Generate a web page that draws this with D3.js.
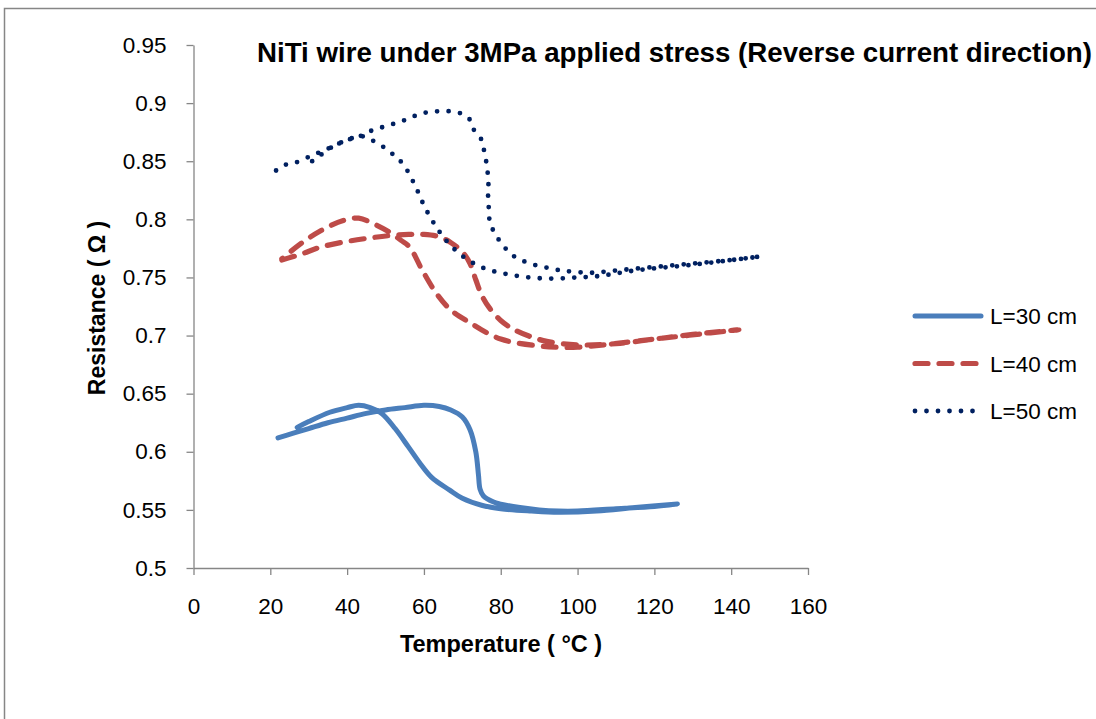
<!DOCTYPE html>
<html>
<head>
<meta charset="utf-8">
<script src="https://cdn.jsdelivr.net/npm/d3@7"></script>
<style>
body { margin: 0; background: #fff; }
text { font-family: "Liberation Sans", Arial, sans-serif; fill: #000; }
</style>
</head>
<body>
<svg width="1096" height="719"></svg>
<script>
// tick labels
var xTicks = [0, 20, 40, 60, 80, 100, 120, 140, 160];
var yTicks = [0.5, 0.55, 0.6, 0.65, 0.7, 0.75, 0.8, 0.85, 0.9, 0.95];
var seriesNames = ["L=30 cm", "L=40 cm", "L=50 cm"];

// L=30 cm : heating then cooling, in path order
var temp30 = [22, 26, 30, 35, 40, 45, 50, 55, 60, 64, 67, 70, 72, 73.5, 74.2, 74.6, 75.5, 78, 80, 85, 90, 95, 100, 110, 120, 126,
              115, 105, 95, 88, 80, 75, 70, 66.7, 62, 59, 56, 52.5, 49, 46, 43, 40, 35.5, 30, 27];
var res30 = [0.612, 0.616, 0.620, 0.625, 0.629, 0.633, 0.636, 0.638, 0.640, 0.639, 0.636, 0.630, 0.619, 0.600, 0.580, 0.568, 0.562, 0.557, 0.555, 0.552, 0.550, 0.549, 0.549, 0.551, 0.553, 0.555,
             0.552, 0.549, 0.548, 0.549, 0.551, 0.554, 0.560, 0.567, 0.578, 0.590, 0.604, 0.620, 0.633, 0.638, 0.640, 0.638, 0.634, 0.626, 0.621];

// L=40 cm
var temp40 = [23, 28, 33, 40, 46, 51, 56, 60, 64, 67, 70, 72, 73.5, 75, 77, 80, 83, 87, 92, 100, 110, 120, 130, 142,
              120, 100, 95, 90, 80, 72, 67, 63.3, 59.6, 56.3, 54, 51, 47, 43, 39, 33, 27.5, 23];
var res40 = [0.765, 0.770, 0.776, 0.781, 0.784, 0.786, 0.787, 0.787, 0.785, 0.780, 0.772, 0.762, 0.748, 0.735, 0.724, 0.713, 0.706, 0.700, 0.695, 0.692, 0.693, 0.697, 0.701, 0.705,
             0.697, 0.690, 0.690, 0.691, 0.697, 0.711, 0.722, 0.736, 0.756, 0.776, 0.782, 0.789, 0.796, 0.801, 0.799, 0.790, 0.778, 0.766];

// L=50 cm
var temp50 = [21.5, 24, 26.7, 30.2, 33, 35.8, 39.8, 43, 46.1, 48.9, 51.9, 54.7, 57.6, 60.6, 63.6, 66.7, 69.7, 71.9, 73, 74.9, 75.6, 76.2, 76.6, 76.8, 76.7, 76.9, 77.1, 78.1, 79.8, 81.8, 84, 86.8, 89.7, 92.7, 95.7, 98.8, 103.5, 110, 120, 130, 140, 147.6,
              130, 115, 105, 99.7, 93.7, 87.5, 81.4, 75.6, 70.2, 66, 63.3, 60.3, 57.7, 54.7, 52.6, 50.4, 47.7, 45, 43.2, 40, 37.6, 35, 32.6, 30.5, 28.9];
var res50 = [0.842, 0.847, 0.849, 0.854, 0.858, 0.862, 0.868, 0.871, 0.876, 0.879, 0.882, 0.885, 0.889, 0.892, 0.893, 0.893, 0.891, 0.886, 0.877, 0.869, 0.860, 0.850, 0.840, 0.829, 0.819, 0.809, 0.799, 0.790, 0.781, 0.773, 0.767, 0.763, 0.760, 0.758, 0.756, 0.755, 0.754, 0.756, 0.759, 0.762, 0.765, 0.768,
             0.761, 0.756, 0.751, 0.750, 0.749, 0.750, 0.753, 0.758, 0.768, 0.781, 0.793, 0.810, 0.829, 0.847, 0.854, 0.860, 0.866, 0.870, 0.872, 0.868, 0.865, 0.860, 0.854, 0.849, 0.844];

var svg = d3.select("svg");

// outer chart border
svg.append("rect")
  .attr("x", 4.5).attr("y", 8.5)
  .attr("width", 1100).attr("height", 720)
  .attr("fill", "none")
  .attr("stroke", "#868686")
  .attr("stroke-width", 1.5);

var x = d3.scaleLinear().domain([0, 160]).range([193.5, 808]);
var y = d3.scaleLinear().domain([0.5, 0.95]).range([568, 45]);

var xAxis = svg.append("g")
  .attr("transform", "translate(0,568)")
  .call(d3.axisBottom(x).tickValues(xTicks).tickSize(7).tickSizeOuter(0).tickPadding(23));

var yAxis = svg.append("g")
  .attr("transform", "translate(193.5,0)")
  .call(d3.axisLeft(y).tickValues(yTicks).tickSize(7).tickSizeOuter(0).tickPadding(20)
    .tickFormat(function(d) { return d3.format("")(+d.toFixed(2)); }));

[xAxis, yAxis].forEach(function(a) {
  a.selectAll("path, line").attr("stroke", "#868686").attr("stroke-width", 1.3);
  a.selectAll("text").attr("font-size", "22.5px").attr("font-family", "Liberation Sans, Arial, sans-serif").attr("fill", "#000");
});

var line = d3.line()
  .x(function(d) { return x(d[0]); })
  .y(function(d) { return y(d[1]); })
  .curve(d3.curveCatmullRom.alpha(0.5));

var series = [
  { t: temp30, r: res30, color: "#4a7ebb", dash: null, width: 5 },
  { t: temp40, r: res40, color: "#be4b48", dash: "13 11", width: 5.2 },
  { t: temp50, r: res50, color: "#002060", dash: "0 11.5", width: 4.8 }
];

series.forEach(function(s) {
  svg.append("path")
    .datum(d3.zip(s.t, s.r))
    .attr("d", line)
    .attr("fill", "none")
    .attr("stroke", s.color)
    .attr("stroke-width", s.width)
    .attr("stroke-linecap", "round")
    .attr("stroke-linejoin", "round")
    .attr("stroke-dasharray", s.dash);
});

// title
svg.append("text")
  .attr("x", 257).attr("y", 62)
  .attr("font-size", "27.7px")
  .attr("font-weight", "bold")
  .text("NiTi wire under 3MPa applied stress (Reverse current direction)");

// axis titles
svg.append("text")
  .attr("x", 501).attr("y", 652)
  .attr("text-anchor", "middle")
  .attr("font-size", "23.5px")
  .attr("font-weight", "bold")
  .text("Temperature ( °C )");

svg.append("text")
  .attr("transform", "translate(105,308) rotate(-90)")
  .attr("text-anchor", "middle")
  .attr("font-size", "23px")
  .attr("font-weight", "bold")
  .text("Resistance ( Ω )");

// legend
var legend = svg.append("g");
seriesNames.forEach(function(name, i) {
  var s = series[i];
  var ly = 316 + i * 47.5;
  legend.append("line")
    .attr("x1", 915).attr("x2", i === 0 ? 981 : 978)
    .attr("y1", ly).attr("y2", ly)
    .attr("stroke", s.color)
    .attr("stroke-width", s.width)
    .attr("stroke-linecap", "round")
    .attr("stroke-dasharray", s.dash);
  legend.append("text")
    .attr("x", 990).attr("y", ly + 8)
    .attr("font-size", "22.5px")
    .text(name);
});
</script>
</body>
</html>
